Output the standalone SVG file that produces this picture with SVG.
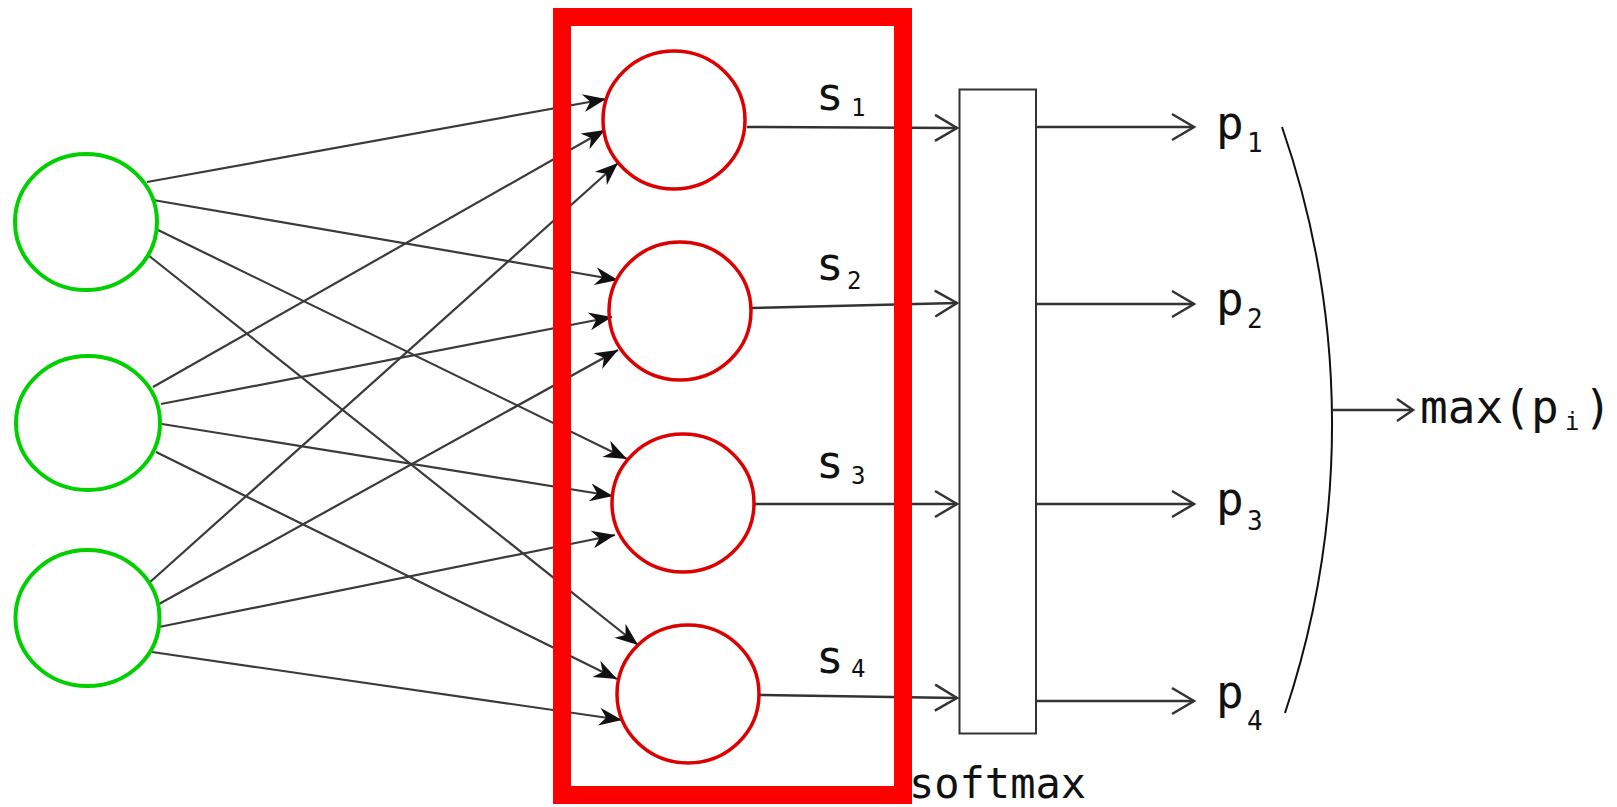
<svg xmlns="http://www.w3.org/2000/svg" width="1617" height="807" viewBox="0 0 1617 807">
<style>
.in{fill:none;stroke:#00d000;stroke-width:4}
.hid{fill:none;stroke:#dd0000;stroke-width:3.5}
.edge{fill:none;stroke:#3a3a3a;stroke-width:2.2}
.flow{fill:none;stroke:#333;stroke-width:2.5}
.lbl{font-family:"DejaVu Sans Mono","Liberation Mono",monospace;fill:#111}
.big{font-size:46px}
.sub{font-size:24px}
.psub{font-size:26px}
</style>
<defs>
<marker id="solid" viewBox="-24 -11 26 22" refX="0" refY="0" markerWidth="26" markerHeight="22" markerUnits="userSpaceOnUse" orient="auto">
<path d="M0,0 L-23,-9 L-16,0 L-23,9 Z" fill="#111"/>
</marker>
<marker id="open" viewBox="-26 -16 30 32" refX="0" refY="0" markerWidth="30" markerHeight="32" markerUnits="userSpaceOnUse" orient="auto">
<path d="M-22,-13 L0,0 L-22,13" fill="none" stroke="#333" stroke-width="2.5"/>
</marker>
<marker id="opensm" viewBox="-20 -14 24 28" refX="0" refY="0" markerWidth="24" markerHeight="28" markerUnits="userSpaceOnUse" orient="auto">
<path d="M-16,-11 L0,0 L-16,11" fill="none" stroke="#333" stroke-width="2.5"/>
</marker>
</defs>

<g id="connectors">
<line class="edge" x1="147" y1="182" x2="606" y2="99" marker-end="url(#solid)"/>
<line class="edge" x1="153" y1="200" x2="618" y2="280" marker-end="url(#solid)"/>
<line class="edge" x1="158" y1="230" x2="627" y2="459" marker-end="url(#solid)"/>
<line class="edge" x1="148" y1="255" x2="638" y2="645" marker-end="url(#solid)"/>
<line class="edge" x1="153" y1="387" x2="605" y2="130" marker-end="url(#solid)"/>
<line class="edge" x1="161" y1="404" x2="612" y2="317" marker-end="url(#solid)"/>
<line class="edge" x1="162" y1="424" x2="613" y2="496" marker-end="url(#solid)"/>
<line class="edge" x1="156" y1="452" x2="617" y2="679" marker-end="url(#solid)"/>
<line class="edge" x1="149" y1="583" x2="618" y2="163" marker-end="url(#solid)"/>
<line class="edge" x1="159" y1="604" x2="618" y2="350" marker-end="url(#solid)"/>
<line class="edge" x1="159" y1="627" x2="615" y2="535" marker-end="url(#solid)"/>
<line class="edge" x1="152" y1="652" x2="622" y2="720" marker-end="url(#solid)"/>

<line class="flow" x1="747" y1="127" x2="957" y2="128" marker-end="url(#open)"/>
<line class="flow" x1="752" y1="308" x2="957" y2="303" marker-end="url(#open)"/>
<line class="flow" x1="754" y1="504" x2="957" y2="504" marker-end="url(#open)"/>
<line class="flow" x1="760" y1="695" x2="957" y2="698" marker-end="url(#open)"/>

<line class="flow" x1="1036" y1="127" x2="1194" y2="127" marker-end="url(#open)"/>
<line class="flow" x1="1036" y1="304" x2="1194" y2="304" marker-end="url(#open)"/>
<line class="flow" x1="1036" y1="504" x2="1194" y2="504" marker-end="url(#open)"/>
<line class="flow" x1="1036" y1="701" x2="1194" y2="701" marker-end="url(#open)"/>

<path d="M1282,127 A909,909 0 0 1 1285,713" fill="none" stroke="#111" stroke-width="2"/>
<line class="flow" x1="1332" y1="410" x2="1413" y2="410" marker-end="url(#opensm)"/>
</g>

<g id="input1"><ellipse class="in" cx="86" cy="222" rx="71" ry="68"/></g>
<g id="input2"><ellipse class="in" cx="88" cy="423" rx="72" ry="67"/></g>
<g id="input3"><ellipse class="in" cx="87.5" cy="618" rx="72" ry="68"/></g>

<g id="hidden1"><ellipse class="hid" cx="674" cy="120" rx="71" ry="69"/></g>
<g id="hidden2"><ellipse class="hid" cx="680" cy="311" rx="71" ry="69"/></g>
<g id="hidden3"><ellipse class="hid" cx="683" cy="503" rx="71" ry="69"/></g>
<g id="hidden4"><ellipse class="hid" cx="688" cy="694" rx="71" ry="69"/></g>

<g id="labels-s" class="lbl">
<text class="big" x="816" y="110">s</text><text class="sub" x="851" y="116">1</text>
<text class="big" x="816" y="280">s</text><text class="sub" x="847" y="289">2</text>
<text class="big" x="816" y="478">s</text><text class="sub" x="851" y="484">3</text>
<text class="big" x="816" y="673">s</text><text class="sub" x="851" y="677">4</text>
</g>

<g id="softmax">
<rect x="959.5" y="89.5" width="76.5" height="644" fill="#fff" stroke="#333" stroke-width="2"/>
<text class="lbl" x="909" y="798" font-size="42">softmax</text>
</g>

<g id="outputs" class="lbl">
<text class="big" x="1216" y="139">p</text><text class="psub" x="1247" y="152">1</text>
<text class="big" x="1216" y="315">p</text><text class="psub" x="1247" y="328">2</text>
<text class="big" x="1216" y="515">p</text><text class="psub" x="1247" y="530">3</text>
<text class="big" x="1216" y="708">p</text><text class="psub" x="1247" y="730">4</text>
</g>

<g id="max" class="lbl">
<text class="big" x="1420" y="423">max(</text>
<text class="big" x="1531" y="423">p</text>
<text class="sub" x="1565" y="430">i</text>
<text class="big" x="1584" y="423">)</text>
</g>

<g id="highlight">
<rect x="562" y="17" width="341" height="778" fill="none" stroke="#ff0000" stroke-width="18"/>
</g>
</svg>
